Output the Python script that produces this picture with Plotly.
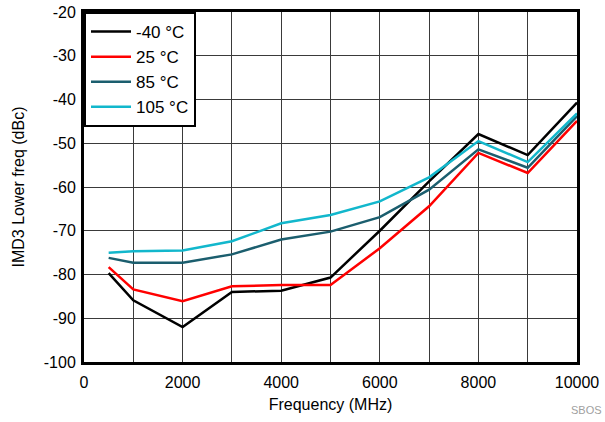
import plotly.graph_objects as go

freq = [500, 1000, 2000, 3000, 4000, 5000, 6000, 7000, 8000, 9000, 10000]
imd_m40 = [-79.7, -85.9, -92.0, -84.0, -83.7, -80.7, -70.0, -58.7, -47.9, -52.7, -40.7]
imd_25 = [-78.3, -83.4, -86.1, -82.7, -82.4, -82.4, -74.0, -64.4, -52.2, -56.8, -44.9]
imd_85 = [-76.2, -77.3, -77.3, -75.4, -72.0, -70.2, -66.9, -60.6, -51.4, -55.6, -43.8]
imd_105 = [-75.0, -74.7, -74.5, -72.4, -68.3, -66.4, -63.3, -57.8, -49.5, -54.3, -43.2]

x_tick_vals = [0, 2000, 4000, 6000, 8000, 10000]
x_tick_text = ["0", "2000", "4000", "6000", "8000", "10000"]
y_tick_vals = [-100, -90, -80, -70, -60, -50, -40, -30, -20]
y_tick_text = ["-100", "-90", "-80", "-70", "-60", "-50", "-40", "-30", "-20"]

series = [
    ("-40 °C", imd_m40, "#000000"),
    ("25 °C", imd_25, "#ff0000"),
    ("85 °C", imd_85, "#1b5e6e"),
    ("105 °C", imd_105, "#12b7cc"),
]

fig = go.Figure()
for name, ys, color in series:
    fig.add_trace(go.Scatter(x=freq, y=ys, mode="lines", name=name,
                             line=dict(color=color, width=2.5)))

font_family = "Liberation Sans, Arial, sans-serif"
grid_col = "#3a3a3a"
fig.update_layout(
    width=605, height=422,
    margin=dict(l=84, r=28, t=12, b=60, autoexpand=False),
    paper_bgcolor="white", plot_bgcolor="white",
    font=dict(family=font_family, size=16, color="#000000"),
    showlegend=True,
    legend=dict(x=0, y=1, xanchor="left", yanchor="top",
                bgcolor="white", bordercolor="black", borderwidth=2,
                font=dict(size=17), tracegroupgap=0, itemwidth=40),
    xaxis=dict(range=[0, 10000], tickvals=x_tick_vals, ticktext=x_tick_text,
               showgrid=True, gridcolor=grid_col, gridwidth=1,
               minor=dict(dtick=1000, tick0=0, showgrid=True, gridcolor=grid_col, gridwidth=1),
               showline=True, linecolor="black", linewidth=3, mirror=True,
               ticks="", zeroline=False, automargin=False, ticklabelstandoff=4,
               ticklabeloverflow="allow",
               title=dict(text="Frequency (MHz)", font=dict(size=16), standoff=9)),
    yaxis=dict(range=[-100, -20], tickvals=y_tick_vals, ticktext=y_tick_text,
               showgrid=True, gridcolor=grid_col, gridwidth=1,
               showline=True, linecolor="black", linewidth=3, mirror=True,
               ticks="", zeroline=False, automargin=False, ticklabelstandoff=2,
               ticklabeloverflow="allow",
               title=dict(text="IMD3 Lower freq (dBc)", font=dict(size=16), standoff=16)),
)
fig.add_annotation(text="SBOS", xref="paper", yref="paper", x=1.0, y=0, xanchor="right",
                   yanchor="top", yshift=-40, xshift=27, showarrow=False,
                   font=dict(size=11, color="#a0a0a0"))

# remove the default 8px body margin so the figure fills the window exactly
fig.write_html("out.html", config={"displayModeBar": False},
               post_script="document.body.style.margin='0';")
